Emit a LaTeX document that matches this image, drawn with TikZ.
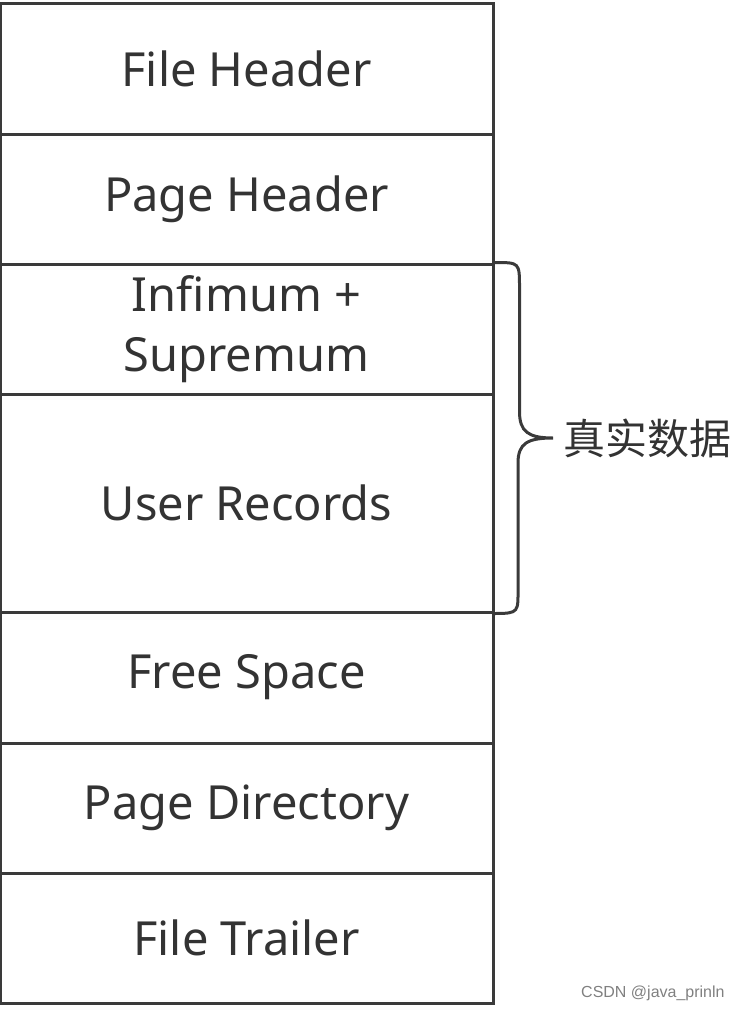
\documentclass[tikz,border=0pt]{standalone}
\usepackage{fontspec}
\setmainfont{Noto Sans}
\newfontfamily\cjk{Noto Sans CJK SC}
\newfontfamily\markfont{Liberation Sans}
\definecolor{edge}{HTML}{3A3A3A}
\definecolor{ink}{HTML}{333333}

\begin{document}
\begin{tikzpicture}[
    x=0.5pt, y=-0.5pt,
    every node/.style={text=ink},
    slot/.style={draw=edge, line width=1.5pt, minimum width=246.5pt,
        inner sep=0pt, align=center, font=\fontsize{23.5}{30}\selectfont},
    brace/.style={draw=edge, line width=1.5pt}
]

\useasboundingbox (0,0) rectangle (741,1011);

% Parameters
\def\xmid{246.5}

% === Page slots, top to bottom ===
\foreach \name/\ytop/\ybot/\txt in {
    fhead/4/134/{File Header},
    phead/134/264/{Page Header},
    infsup/264/394/{Infimum +\\Supremum},
    records/394/612/{User Records},
    free/612/743/{Free Space},
    pdir/743/873/{Page Directory},
    ftrail/873/1003/{File Trailer}} {
    \pgfmathsetmacro{\h}{(\ybot-\ytop)/2}
    \node[slot, minimum height=\h pt] (\name) at (\xmid,{(\ytop+\ybot)/2}) {\txt};
}

% === Brace over Infimum + Supremum and User Records ===
\coordinate (tip) at (553,438);
\node[anchor=west, inner sep=0pt, font=\cjk\fontsize{21}{24}\selectfont] (realdata) at ([xshift=5pt]tip) {真实数据};

\draw[brace] (infsup.north east) .. controls +(25,0) and +(0,-25) .. ++(25,25)
    -- ++(0,124) .. controls +(0,20) and +(-25,0) .. (tip)
    .. controls +(-25,0) and +(0,-20) .. ++(-35,25)
    -- ++(0,124) .. controls +(0,25) and +(25,0) .. (records.south east);

% Watermark
\node[anchor=east, inner sep=0pt, text=gray, font=\markfont\fontsize{8}{10}\selectfont] (mark) at (725,993) {CSDN @java\_prinln};

\end{tikzpicture}
\end{document}
